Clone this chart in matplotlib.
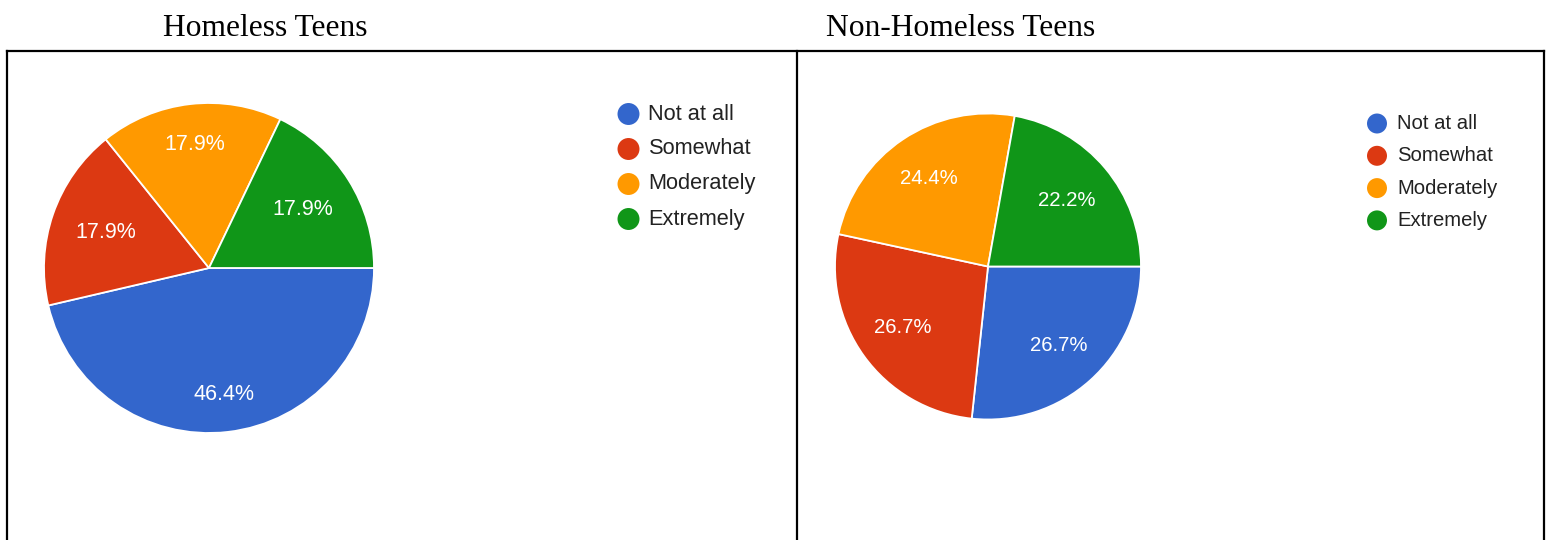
import numpy as np
import matplotlib
matplotlib.use("Agg")
import matplotlib.pyplot as plt

W, H = 1551, 540

categories = ["Not at all", "Somewhat", "Moderately", "Extremely"]
homeless = [46.4, 17.9, 17.9, 17.9]
non_homeless = [26.7, 26.7, 24.4, 22.2]
titles = ["Homeless Teens", "Non-Homeless Teens"]
colors = ["#3366cc", "#dc3912", "#ff9900", "#109618"]

fig = plt.figure(figsize=(W / 100, H / 100), dpi=100)

# overlay axes in pixel coordinates (y down) for the table frame, titles, legends
base = fig.add_axes([0, 0, 1, 1])
base.set_xlim(0, W)
base.set_ylim(H, 0)
base.axis("off")

lw = 1.6
base.plot([7, 1544], [51, 51], color="black", lw=lw, solid_capstyle="projecting")
for x in [7, 797, 1544]:
    base.plot([x, x], [51, H + 5], color="black", lw=lw)

base.text(265, 36, titles[0], ha="center", va="baseline",
          family="Liberation Serif", fontsize=22.7, color="black")
base.text(961, 36, titles[1], ha="center", va="baseline",
          family="Liberation Serif", fontsize=22.7, color="black")


def draw_pie(vals, cx, cy, r, dists, fs):
    ax = fig.add_axes([(cx - r) / W, 1 - (cy + r) / H, 2 * r / W, 2 * r / H])
    wedges, _ = ax.pie(vals, colors=colors, startangle=0, counterclock=False,
                       radius=1, wedgeprops=dict(edgecolor="white", linewidth=1.3))
    ax.set_xlim(-1, 1)
    ax.set_ylim(-1, 1)
    ax.axis("off")
    for w, v, d in zip(wedges, vals, dists):
        mid = np.deg2rad((w.theta1 + w.theta2) / 2)
        ax.text(d * np.cos(mid), d * np.sin(mid), f"{v:.1f}%", ha="center",
                va="center", color="white", fontsize=fs, family="Liberation Sans")


def draw_legend(x, y0, step, size, fs):
    for i, (lab, c) in enumerate(zip(categories, colors)):
        y = y0 + i * step
        base.scatter([x], [y], s=size, color=c, edgecolors="none")
        base.text(x + 20, y, lab, ha="left", va="center", fontsize=fs,
                  family="Liberation Sans", color="#222222")


draw_pie(homeless, 209, 268, 165, [0.77, 0.665, 0.756, 0.67], 15.5)
draw_pie(non_homeless, 988, 266.5, 153, [0.694, 0.685, 0.696, 0.673], 14.7)

draw_legend(628.5, 114, 35, 250, 15.7)
draw_legend(1377, 123.5, 32.3, 207, 14.6)

fig.savefig("out.png", dpi=100)
